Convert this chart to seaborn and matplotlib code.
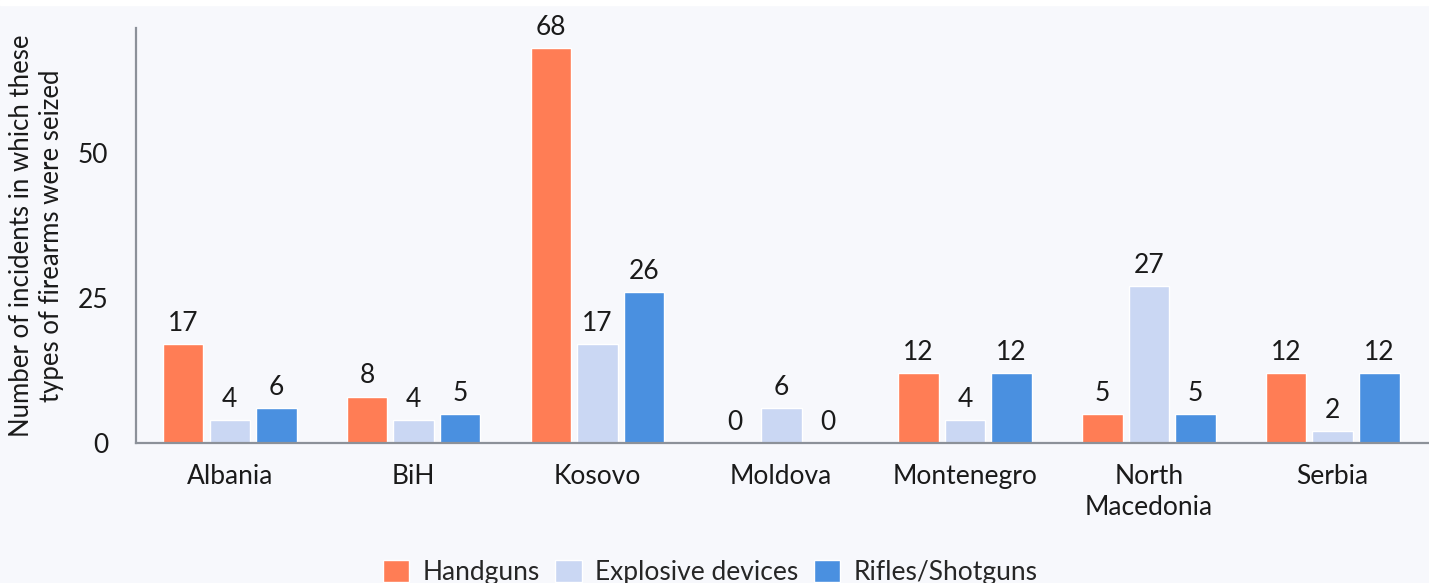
import matplotlib
matplotlib.use("Agg")
import matplotlib.pyplot as plt
import matplotlib.patches as mpatches
import seaborn as sns
import pandas as pd

# --- data ---
countries = ["Albania", "BiH", "Kosovo", "Moldova", "Montenegro", "North\nMacedonia", "Serbia"]
series_names = ["Handguns", "Explosive devices", "Rifles/Shotguns"]
handguns = [17, 8, 68, 0, 12, 5, 12]
explosives = [4, 4, 17, 6, 4, 27, 2]
rifles = [6, 5, 26, 0, 12, 5, 12]
colors = ["#FF7D55", "#CAD7F3", "#4A90E0"]

df = pd.DataFrame({
    "country": countries * 3,
    "type": [series_names[0]] * 7 + [series_names[1]] * 7 + [series_names[2]] * 7,
    "count": handguns + explosives + rifles,
})

BG = "#F7F8FC"
FS = 19
sns.set_theme(style="white")
plt.rcParams["font.family"] = ["Lato", "DejaVu Sans"]

fig = plt.figure(figsize=(14.29, 5.83), dpi=100, facecolor=BG)
ax = fig.add_axes([0.0952, 0.240, 0.9043, 0.712])
ax.set_facecolor(BG)
fig.patches.append(mpatches.Rectangle((0, 0.991), 1, 0.009, transform=fig.transFigure,
                                      color="white", zorder=0))

sns.barplot(data=df, x="country", y="count", hue="type", hue_order=series_names,
            palette=colors, width=0.76, gap=0.13, saturation=1, ax=ax)

for cont in ax.containers:
    ax.bar_label(cont, padding=6, fontsize=FS, color="#1a1a1a")

ax.set_xlim(-0.51, 6.52)
ax.set_ylim(0, 71.5)
ax.set_yticks([0, 25, 50])
ax.tick_params(axis="both", length=0, labelsize=FS, colors="#1a1a1a")
ax.tick_params(axis="y", pad=20)
ax.tick_params(axis="x", pad=15)
for lbl in ax.get_xticklabels():
    lbl.set_linespacing(1.3)
ax.set_xlabel("")
ax.set_ylabel("Number of incidents in which these\ntypes of firearms were seized",
              fontsize=18.5, color="#1a1a1a", linespacing=1.25)
ax.yaxis.set_label_coords(-0.056, 0.5)

for s in ["top", "right"]:
    ax.spines[s].set_visible(False)
for s in ["left", "bottom"]:
    ax.spines[s].set_color("#8C9199")
    ax.spines[s].set_linewidth(1.6)

handles, labels = ax.get_legend_handles_labels()
ax.get_legend().remove()
fig.legend(handles, labels, loc="center", bbox_to_anchor=(0.497, 0.018), ncol=3,
           frameon=False, fontsize=FS, handlelength=1.0, handleheight=0.9,
           handletextpad=0.5, columnspacing=0.6)

fig.savefig("out.png", dpi=100, facecolor=BG)
